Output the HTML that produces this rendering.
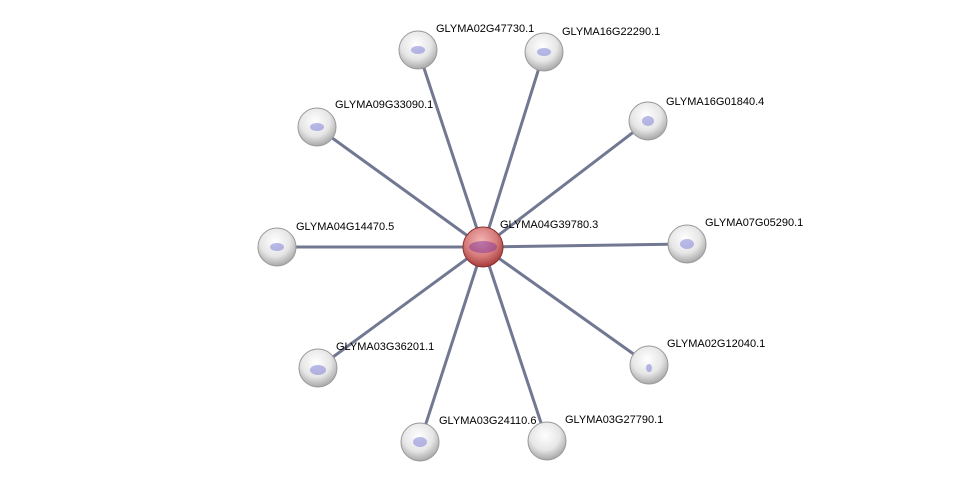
<!DOCTYPE html>
<html><head><meta charset="utf-8"><style>
html,body{margin:0;padding:0;background:#fff;}
svg{display:block;}
text{font-family:"Liberation Sans",sans-serif;font-size:11px;fill:#000;}
</style></head><body>
<svg width="975" height="487" viewBox="0 0 975 487">
<defs>
<radialGradient id="g" cx="45%" cy="35%" r="65%">
<stop offset="0" stop-color="#ffffff"/><stop offset="0.6" stop-color="#e6e6e6"/><stop offset="1" stop-color="#a8a8a8"/>
</radialGradient>
<radialGradient id="r" cx="45%" cy="35%" r="65%">
<stop offset="0" stop-color="#f3b5b5"/><stop offset="0.6" stop-color="#d77b7b"/><stop offset="1" stop-color="#a63c3c"/>
</radialGradient>
</defs>
<g stroke="#727892" stroke-width="3">
<line x1="483" y1="247" x2="418" y2="50"/>
<line x1="483" y1="247" x2="544" y2="52"/>
<line x1="483" y1="247" x2="648" y2="121"/>
<line x1="483" y1="247" x2="317" y2="127"/>
<line x1="483" y1="247" x2="277" y2="247"/>
<line x1="483" y1="247" x2="687" y2="244"/>
<line x1="483" y1="247" x2="649" y2="365"/>
<line x1="483" y1="247" x2="318" y2="368"/>
<line x1="483" y1="247" x2="420" y2="442"/>
<line x1="483" y1="247" x2="547" y2="441"/>
</g>
<g stroke="#999" stroke-width="1" fill="url(#g)">
<circle cx="418" cy="50" r="19"/>
<circle cx="544" cy="52" r="19"/>
<circle cx="648" cy="121" r="19"/>
<circle cx="317" cy="127" r="19"/>
<circle cx="277" cy="247" r="19"/>
<circle cx="687" cy="244" r="19"/>
<circle cx="649" cy="365" r="19"/>
<circle cx="318" cy="368" r="19"/>
<circle cx="420" cy="442" r="19"/>
<circle cx="547" cy="441" r="19"/>
</g>
<circle cx="483" cy="247" r="20" fill="url(#r)" stroke="#8a3030"/>
<g fill="#6a6ad0" opacity="0.45">
<ellipse cx="418" cy="50" rx="7" ry="4"/><ellipse cx="544" cy="52" rx="7" ry="4"/>
<ellipse cx="648" cy="121" rx="6" ry="5"/><ellipse cx="317" cy="127" rx="7" ry="4"/>
<ellipse cx="277" cy="247" rx="7" ry="4"/><ellipse cx="687" cy="244" rx="7" ry="5"/>
<ellipse cx="649" cy="368" rx="3" ry="4"/><ellipse cx="318" cy="370" rx="8" ry="5"/>
<ellipse cx="420" cy="442" rx="7" ry="5"/>
<ellipse cx="483" cy="247" rx="14" ry="6" fill="#7a2a9a"/>
</g>
<text x="436" y="32">GLYMA02G47730.1</text>
<text x="562" y="35">GLYMA16G22290.1</text>
<text x="666" y="105">GLYMA16G01840.4</text>
<text x="335" y="108">GLYMA09G33090.1</text>
<text x="296" y="230">GLYMA04G14470.5</text>
<text x="500" y="228">GLYMA04G39780.3</text>
<text x="705" y="226">GLYMA07G05290.1</text>
<text x="667" y="347">GLYMA02G12040.1</text>
<text x="336" y="350">GLYMA03G36201.1</text>
<text x="439" y="424">GLYMA03G24110.6</text>
<text x="565" y="423">GLYMA03G27790.1</text>
</svg>
</body></html>
